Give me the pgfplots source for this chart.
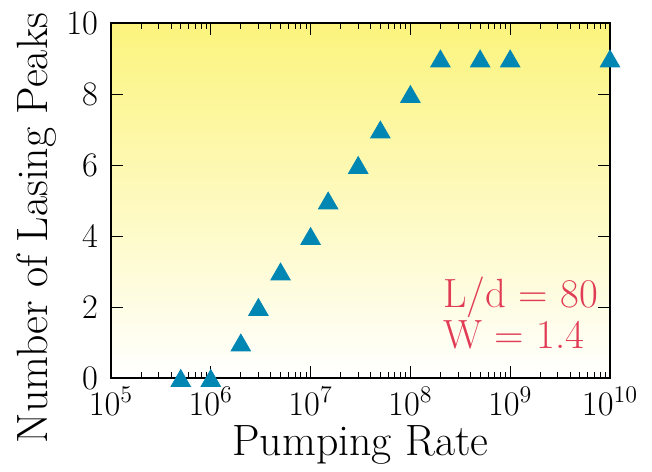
\documentclass[border=0pt]{standalone}
\usepackage{pgfplots}
\pgfplotsset{compat=1.18}
\definecolor{mk}{RGB}{0,134,179}
\definecolor{txtred}{RGB}{224,60,85}
\definecolor{ytop}{RGB}{252,244,125}
\begin{document}
\begin{tikzpicture}
\begin{axis}[
  xmode=log,
  scale only axis,
  width=249.5bp, height=177.5bp,
  xmin=1e5, xmax=1e10, ymin=0, ymax=10,
  xtick={1e5,1e6,1e7,1e8,1e9,1e10},
  ytick={0,2,4,6,8,10},
  minor tick num=0,
  minor xtick={},
  tick align=inside,
  major tick length=6bp,
  tick style={line width=0.5bp, black},
  axis line style={line width=1.2bp},
  clip=false,
  axis background/.style={shade, top color=ytop, bottom color=white},
  tick label style={font=\fontsize{17.5}{20}\selectfont, inner sep=0.5bp},
  xticklabel style={yshift=-4bp},
  yticklabel style={xshift=-5.8bp},
  label style={font=\fontsize{22}{26}\selectfont},
  xlabel={Pumping Rate},
  ylabel={Number of Lasing Peaks},
  xlabel style={at={(rel axis cs:0.5,-0.19)}, anchor=center},
  ylabel style={at={(rel axis cs:-0.150,0.4225)}, anchor=center},
]
\path (rel axis cs:-0.2224,-0.2535) rectangle (rel axis cs:1.0842,1.0648);
\addplot[only marks, mark=triangle*, mark size=5.6bp, color=mk, mark options={fill=mk, draw=mk, yshift=-1.4bp}] coordinates {
(5e5,0) (1e6,0) (2e6,1) (3e6,2) (5e6,3) (1e7,4) (1.5e7,5) (3e7,6) (5e7,7) (1e8,8) (2e8,9) (5e8,9) (1e9,9) (1e10,9)
};
\node[anchor=base west, text=txtred, font=\fontsize{20.5}{22}\selectfont, inner sep=0pt] at (rel axis cs:0.665,0.2) {L/d = 80};
\node[anchor=base west, text=txtred, font=\fontsize{20.5}{22}\selectfont, inner sep=0pt] at (rel axis cs:0.665,0.0845) {W = 1.4};
\end{axis}
\end{tikzpicture}
\end{document}
